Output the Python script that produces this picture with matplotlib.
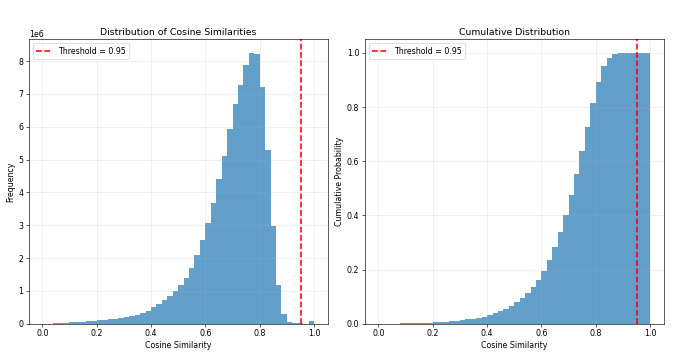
import numpy as np
import matplotlib
matplotlib.use('Agg')
import matplotlib.pyplot as plt

# histogram bin edges (50 bins over [0, 1]) and counts, in millions
bin_edges = np.linspace(0, 1, 51)
counts_m = [0.001, 0.002, 0.005, 0.01, 0.03, 0.04, 0.05, 0.06, 0.07, 0.09,
            0.10, 0.11, 0.13, 0.15, 0.17, 0.20, 0.23, 0.27, 0.32, 0.40,
            0.50, 0.60, 0.72, 0.84, 1.00, 1.17, 1.40, 1.71, 2.08, 2.56,
            3.07, 3.69, 4.40, 5.10, 5.92, 6.69, 7.28, 7.89, 8.25, 8.23,
            7.20, 5.28, 2.97, 1.18, 0.29, 0.05, 0.015, 0.005, 0.003, 0.08]
threshold = 0.95

counts = np.array(counts_m) * 1e6
centers = bin_edges[:-1]

dpi = 56.5
fig, (ax1, ax2) = plt.subplots(1, 2, figsize=(678 / dpi, 362 / dpi))
fig.subplots_adjust(left=0.0423, right=0.979, top=0.891, bottom=0.106, wspace=0.124)

ax1.hist(centers, bins=bin_edges, weights=counts, alpha=0.7)
ax1.axvline(threshold, color='red', linestyle='--', linewidth=2, label=f'Threshold = {threshold}')
ax1.set_xlabel('Cosine Similarity')
ax1.set_ylabel('Frequency')
ax1.set_title('Distribution of Cosine Similarities')
ax1.legend(loc='upper left')
ax1.grid(True, alpha=0.3)

ax2.hist(centers, bins=bin_edges, weights=counts, alpha=0.7, cumulative=True, density=True)
ax2.axvline(threshold, color='red', linestyle='--', linewidth=2, label=f'Threshold = {threshold}')
ax2.set_xlabel('Cosine Similarity')
ax2.set_ylabel('Cumulative Probability')
ax2.set_title('Cumulative Distribution')
ax2.legend(loc='upper left')
ax2.grid(True, alpha=0.3)

plt.savefig('out.png', dpi=dpi)
